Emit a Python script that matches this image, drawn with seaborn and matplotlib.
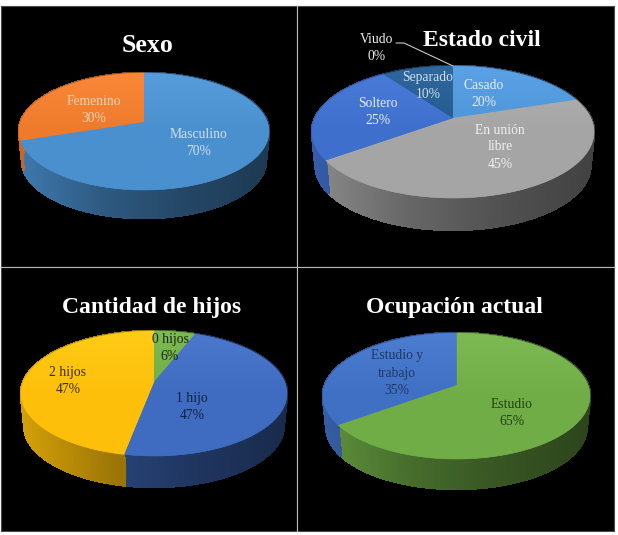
import numpy as np
import matplotlib
matplotlib.use("Agg")
import matplotlib.pyplot as plt
from matplotlib.colors import LinearSegmentedColormap, to_rgb
from matplotlib.patches import Polygon
import seaborn as sns

# data
sexo_labels = ["Masculino\n70%", "Femenino\n30%"]
sexo_values = [70, 30]
civil_labels = ["Casado\n20%", "En unión\nlibre\n45%", "Soltero\n25%", "Separado\n10%", "Viudo\n0%"]
civil_values = [20, 45, 25, 10, 0]
hijos_labels = ["0 hijos\n6%", "1 hijo\n47%", "2 hijos\n47%"]
hijos_values = [6, 47, 47]
ocupacion_labels = ["Estudio\n65%", "Estudio y\ntrabajo\n35%"]
ocupacion_values = [65, 35]

W, H = 618, 535
FRAME = (1, 6, 614, 531)
MID_X, MID_Y = 297, 267
SERIF = "Liberation Serif"

# panel layout in pixels: pie ellipse centre, radii, y of the wedge apex, depth of the side
panels = [
    dict(title="Sexo", title_xy=(148, 46), title_size=18.6, labels=sexo_labels, values=sexo_values,
         colors=["#4a90cf", "#ee7b2c"], text=["#d0e0ef", "#f6d2b4"],
         text_xy=[(199, 143), (94, 110)], inner=("right", "bottom"),
         cx=144, cy=131.5, rx=125, ry=58.5, apex=122, depth=29.5, box=(FRAME[0], FRAME[1], MID_X, MID_Y)),
    dict(title="Estado civil", title_xy=(482, 41), title_size=17.0, labels=civil_labels, values=civil_values,
         colors=["#4e94d8", "#a5a5a5", "#3f6fcc", "#235a90", "#264478"],
         text=["#e6eef8", "#f0f0f0", "#e6ecf8", "#d0deec", "#f0f0f0"],
         text_xy=[(484, 94), (500, 147), (378, 112), (428, 86), (377, 48)], inner=("left", "bottom"),
         cx=453, cy=132, rx=141, ry=66, apex=118, depth=33.5, box=(MID_X, FRAME[1], FRAME[2], MID_Y)),
    dict(title="Cantidad de hijos", title_xy=(152, 307), title_size=17.0, labels=hijos_labels, values=hijos_values,
         colors=["#70ad47", "#3f6cc0", "#fdbf0a"], text=["#14260c", "#0f2240", "#3a2c00"],
         text_xy=[(170, 348), (192, 407), (68, 381)], inner=("right", "top"),
         cx=154, cy=393.5, rx=133, ry=62.5, apex=382, depth=32.5, box=(FRAME[0], MID_Y, MID_X, FRAME[3])),
    dict(title="Ocupación actual", title_xy=(454, 307), title_size=17.0, labels=ocupacion_labels, values=ocupacion_values,
         colors=["#70ad47", "#3f70c4"], text=["#23400f", "#1f3864"],
         text_xy=[(512, 413), (397, 373)], inner=("left", "top"),
         cx=456.5, cy=396, rx=133.5, ry=63, apex=385, depth=31.5, box=(MID_X, MID_Y, FRAME[2], FRAME[3])),
]


def project(theta, p, bottom=False):
    """Perspective map of the unit circle onto the tilted pie, in pixels."""
    k = (p["cy"] - p["apex"]) / p["ry"]
    t = np.radians(theta)
    x, y = np.cos(t), np.sin(t)
    c = p["rx"] * np.sqrt(1 - k ** 2)
    px = c * x / (1 + k * y)
    py = (p["ry"] * y + p["ry"] * k) / (1 + k * y)
    if bottom:
        return p["cx"] + px * 0.975, p["cy"] - py * 0.975 + p["depth"]
    return p["cx"] + px, p["cy"] - py


def side_shade(u):
    # light on the left of the rim, dark on the right
    return np.interp(u, [-1, -0.3, 0.3, 1], [0.84, 0.62, 0.5, 0.4])


def draw_pie(ax, p):
    wedges, _ = ax.pie(p["values"], startangle=90, counterclock=False)
    angles = [(w.theta1, w.theta2) for w in wedges]
    for w in wedges:
        w.remove()
    ax.set_frame_on(True)  # pie() switches the frame off
    ax.set_aspect("auto")
    x0, y0, x1, y1 = p["box"]
    ax.set_xlim(x0, x1)
    ax.set_ylim(y1, y0)

    # side of the pie, thin strips along the rim
    for (t1, t2), col in zip(angles, p["colors"]):
        if t2 - t1 < 0.01:
            continue
        ts = np.linspace(t1, t2, max(3, int((t2 - t1) * 2)))
        for a, b in zip(ts[:-1], ts[1:]):
            xa, ya = project(a, p)
            xb, yb = project(b, p)
            xc, yc = project(b, p, bottom=True)
            xd, yd = project(a, p, bottom=True)
            shade = side_shade(((xa + xb) / 2 - p["cx"]) / p["rx"])
            strip = tuple(np.array(to_rgb(col)) * shade)
            ax.add_patch(Polygon([(xa, ya), (xb, yb), (xc, yc), (xd, yd)], closed=True,
                                 fc=strip, ec=strip, lw=1.2, antialiased=False, zorder=2))

    # top face, a soft vertical gradient clipped to each wedge
    for (t1, t2), col in zip(angles, p["colors"]):
        if t2 - t1 < 0.01:
            continue
        ts = np.linspace(t1, t2, 120)
        xs, ys = project(ts, p)
        verts = np.column_stack([np.r_[p["cx"], xs], np.r_[p["apex"], ys]])
        rgb = np.array(to_rgb(col))
        light = np.clip(rgb + 0.05, 0, 1)
        cmap = LinearSegmentedColormap.from_list("face", [light, rgb, rgb])
        poly = Polygon(verts, closed=True, fc=col, ec=col, lw=0.4, zorder=3)
        ax.add_patch(poly)
        grad = np.linspace(0, 1, 64).reshape(-1, 1)
        im = ax.imshow(grad, cmap=cmap, aspect="auto", zorder=3.1,
                       extent=(p["cx"] - p["rx"], p["cx"] + p["rx"], p["cy"] + p["ry"], p["cy"] - p["ry"]))
        im.set_clip_path(poly)
    ax.set_xlim(x0, x1)
    ax.set_ylim(y1, y0)

    for label, xy, tc in zip(p["labels"], p["text_xy"], p["text"]):
        ax.text(xy[0], xy[1], label, color=tc, fontsize=9.8, family=SERIF, ha="center", va="center",
                linespacing=1.4, zorder=5)
    ax.text(p["title_xy"][0], p["title_xy"][1], p["title"], color="white", fontsize=p["title_size"],
            family=SERIF, fontweight="bold", ha="center", va="center", zorder=5)


sns.set_theme(style="white")
fig = plt.figure(figsize=(W / 100, H / 100), dpi=100, facecolor="white")

for p in panels:
    x0, y0, x1, y1 = p["box"]
    ax = fig.add_axes([x0 / W, 1 - y1 / H, (x1 - x0) / W, (y1 - y0) / H])
    ax.set_facecolor("black")
    draw_pie(ax, p)
    ax.set_xticks([])
    ax.set_yticks([])
    for name, s in ax.spines.items():
        s.set_visible(True)
        s.set_color("#b8b8b8" if name in p["inner"] else "#4a4a4a")
        s.set_linewidth(0.8)
        s.set_zorder(6 if name in p["inner"] else 2.5)
    # leader line of the empty slice
    if p["title"] == "Estado civil":
        ax.plot([396, 404, 453], [43, 43, 66], color="#c8c8c8", lw=0.8, zorder=4)

fig.savefig("out.png", dpi=100, facecolor="white")
